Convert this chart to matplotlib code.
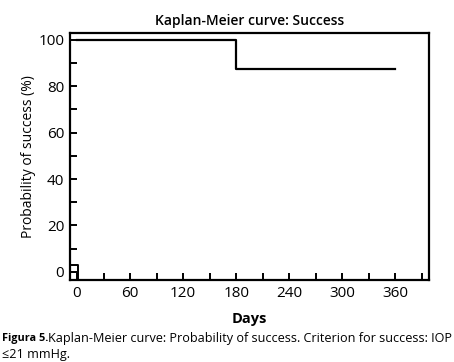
import matplotlib
matplotlib.use('Agg')
import matplotlib.pyplot as plt
from matplotlib.ticker import MultipleLocator

# Kaplan-Meier step data
days = [0, 180, 360]
success = [100, 87.5, 87.5]
# small mark near origin
mark_x = [-8, 1, 1]
mark_y = [3, 3, -3.5]

x_ticks = [0, 60, 120, 180, 240, 300, 360]
y_ticks = [0, 20, 40, 60, 80, 100]

plt.rcParams['font.family'] = ['Open Sans', 'DejaVu Sans']

fig = plt.figure(figsize=(4.54, 3.62), dpi=100)
ax = fig.add_axes([0.154, 0.2265, 0.791, 0.6825])

ax.step(days, success, where='post', color='black', lw=1.6)
ax.plot(mark_x, mark_y, color='black', lw=1.4)

ax.set_xlim(-8, 398)
ax.set_ylim(-3.5, 103)
ax.set_xticks(x_ticks)
ax.set_yticks(y_ticks)
ax.xaxis.set_minor_locator(MultipleLocator(30))
ax.yaxis.set_minor_locator(MultipleLocator(10))
ax.tick_params(which='both', direction='in', width=1.4, length=5, labelsize=11, pad=4)
for s in ax.spines.values():
    s.set_linewidth(1.6)

ax.set_title('Kaplan-Meier curve: Success', fontsize=10, fontweight='semibold', pad=6)
ax.set_xlabel('Days', fontsize=10.5, fontweight='bold', labelpad=8)
ax.set_ylabel('Probability of success (%)', fontsize=10, labelpad=2)

fig.text(0.004, 0.066, 'Figura 5.', fontsize=7.8, fontweight='bold', va='center')
fig.text(0.106, 0.066, 'Kaplan-Meier curve: Probability of success. Criterion for success: IOP',
         fontsize=9.1, va='center')
fig.text(0.004, 0.021, '≤21 mmHg.', fontsize=9.1, va='center')

plt.savefig('out.png', dpi=100)
